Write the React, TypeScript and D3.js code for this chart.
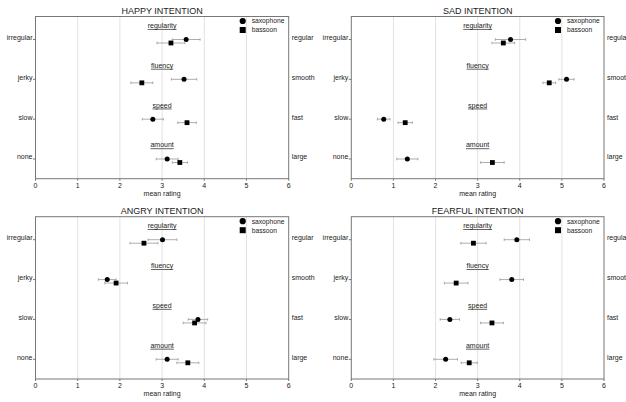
import React, { useEffect, useRef } from 'react';
import * as d3 from 'd3';

const intentions = ['HAPPY INTENTION', 'SAD INTENTION', 'ANGRY INTENTION', 'FEARFUL INTENTION'];
const cues = ['regularity', 'fluency', 'speed', 'amount'];
const lowLabels = ['irregular', 'jerky', 'slow', 'none'];
const highLabels = ['regular', 'smooth', 'fast', 'large'];
const instruments = ['saxophone', 'bassoon'];
const xTicks = [0, 1, 2, 3, 4, 5, 6];

// mean rating per cue (regularity, fluency, speed, amount), one array per intention
const saxMeans = [
  [3.57, 3.52, 2.78, 3.12],
  [3.78, 5.11, 0.77, 1.33],
  [3.01, 1.7, 3.85, 3.12],
  [3.93, 3.81, 2.34, 2.24],
];
const saxErr = [
  [0.33, 0.3, 0.25, 0.26],
  [0.36, 0.18, 0.15, 0.25],
  [0.34, 0.21, 0.23, 0.26],
  [0.3, 0.28, 0.23, 0.28],
];
const bassoonMeans = [
  [3.21, 2.52, 3.59, 3.42],
  [3.61, 4.7, 1.28, 3.35],
  [2.57, 1.91, 3.77, 3.61],
  [2.9, 2.49, 3.34, 2.8],
];
const bassoonErr = [
  [0.33, 0.26, 0.22, 0.18],
  [0.27, 0.15, 0.17, 0.28],
  [0.33, 0.27, 0.27, 0.26],
  [0.3, 0.28, 0.27, 0.19],
];

const W = 626;
const H = 402;
const FONT = '"Liberation Sans", Arial, sans-serif';

const App = () => {
  const svgRef = useRef<SVGSVGElement>(null);

  useEffect(() => {
    const svg = d3.select(svgRef.current);
    svg.selectAll('*').remove();

    // plot frames for the 2x2 grid
    const cols = [[35.5, 288.7], [351.3, 604]];
    const rows = [[16.5, 178.7], [216.7, 379]];

    intentions.forEach((title, p) => {
      const [x0, x1] = cols[p % 2];
      const [y0, y1] = rows[Math.floor(p / 2)];

      const x = d3.scaleLinear().domain([0, 6]).range([x0, x1]);
      const y = d3.scalePoint().domain(cues).range([y0 + 23, y1 - 19.7]);

      const g = svg.append('g').style('font-family', FONT);

      // gridlines
      g.selectAll('.grid')
        .data(xTicks.slice(1, -1))
        .enter().append('line')
        .attr('x1', d => x(d)).attr('x2', d => x(d))
        .attr('y1', y0).attr('y2', y1)
        .attr('stroke', '#e2e2e2')
        .attr('stroke-width', 1);

      // frame
      g.append('rect')
        .attr('x', x0).attr('y', y0)
        .attr('width', x1 - x0).attr('height', y1 - y0)
        .attr('fill', 'none')
        .attr('stroke', '#777')
        .attr('stroke-width', 1);

      // x axis ticks + labels
      g.selectAll('.xt')
        .data(xTicks)
        .enter().append('line')
        .attr('x1', d => x(d)).attr('x2', d => x(d))
        .attr('y1', y1).attr('y2', y1 + 2)
        .attr('stroke', '#777');
      g.selectAll('.xl')
        .data(xTicks)
        .enter().append('text')
        .attr('x', d => x(d))
        .attr('y', y1 + 6.5)
        .attr('dy', '0.35em')
        .attr('text-anchor', 'middle')
        .style('font-size', '7px')
        .attr('fill', '#222')
        .text(d => d);

      g.append('text')
        .attr('x', (x0 + x1) / 2)
        .attr('y', y1 + 14.5)
        .attr('dy', '0.35em')
        .attr('text-anchor', 'middle')
        .style('font-size', '7px')
        .attr('fill', '#222')
        .text('mean rating');

      // title
      g.append('text')
        .attr('x', (x0 + x1) / 2)
        .attr('y', y0 - 5.5)
        .attr('dy', '0.35em')
        .attr('text-anchor', 'middle')
        .style('font-size', '9px')
        .attr('fill', '#222')
        .text(title);

      // left / right scale anchors
      cues.forEach((c, i) => {
        const cy = y(c)!;
        g.append('line')
          .attr('x1', x0 - 2.5).attr('x2', x0)
          .attr('y1', cy).attr('y2', cy)
          .attr('stroke', '#777');
        g.append('text')
          .attr('x', x0 - 3)
          .attr('y', cy - 2)
          .attr('dy', '0.35em')
          .attr('text-anchor', 'end')
          .style('font-size', '7px')
          .attr('fill', '#222')
          .text(lowLabels[i]);
        g.append('text')
          .attr('x', x1 + 3)
          .attr('y', cy - 2)
          .attr('dy', '0.35em')
          .style('font-size', '7px')
          .attr('fill', '#222')
          .text(highLabels[i]);
        g.append('text')
          .attr('x', x(3))
          .attr('y', cy - 14)
          .attr('dy', '0.35em')
          .attr('text-anchor', 'middle')
          .style('font-size', '7px')
          .style('text-decoration', 'underline')
          .attr('fill', '#222')
          .text(c);
      });

      // points with error bars
      const series = [
        { means: saxMeans[p], errs: saxErr[p], off: 0, shape: 'circle' },
        { means: bassoonMeans[p], errs: bassoonErr[p], off: 3.5, shape: 'square' },
      ];
      series.forEach(s => {
        const pts = cues.map((c, i) => ({ cy: y(c)! + s.off, m: s.means[i], e: s.errs[i] }));
        const eb = g.append('g').attr('stroke', '#999').attr('stroke-width', 0.8);
        pts.forEach(d => {
          eb.append('line')
            .attr('x1', x(d.m - d.e)).attr('x2', x(d.m + d.e))
            .attr('y1', d.cy).attr('y2', d.cy);
          [d.m - d.e, d.m + d.e].forEach(v => {
            eb.append('line')
              .attr('x1', x(v)).attr('x2', x(v))
              .attr('y1', d.cy - 1.3).attr('y2', d.cy + 1.3);
          });
        });
        if (s.shape === 'circle') {
          g.selectAll(null)
            .data(pts)
            .enter().append('circle')
            .attr('cx', d => x(d.m))
            .attr('cy', d => d.cy)
            .attr('r', 2.5)
            .attr('fill', '#000');
        } else {
          g.selectAll(null)
            .data(pts)
            .enter().append('rect')
            .attr('x', d => x(d.m) - 2.4)
            .attr('y', d => d.cy - 2.4)
            .attr('width', 4.8)
            .attr('height', 4.8)
            .attr('fill', '#000');
        }
      });

      // legend
      const lx = x1 - 46;
      instruments.forEach((name, i) => {
        const ly = y0 + 4.5 + i * 9;
        if (i === 0) {
          g.append('circle').attr('cx', lx).attr('cy', ly).attr('r', 3.1).attr('fill', '#000');
        } else {
          g.append('rect').attr('x', lx - 3).attr('y', ly - 3).attr('width', 6).attr('height', 6).attr('fill', '#000');
        }
        g.append('text')
          .attr('x', lx + 9)
          .attr('y', ly)
          .attr('dy', '0.35em')
          .style('font-size', '6.7px')
          .attr('fill', '#222')
          .text(name);
      });
    });
  }, []);

  return (
    <svg
      ref={svgRef}
      width={W}
      height={H}
      style={{ position: 'absolute', left: 0, top: 0, background: '#fff' }}
    />
  );
};

export default App;
